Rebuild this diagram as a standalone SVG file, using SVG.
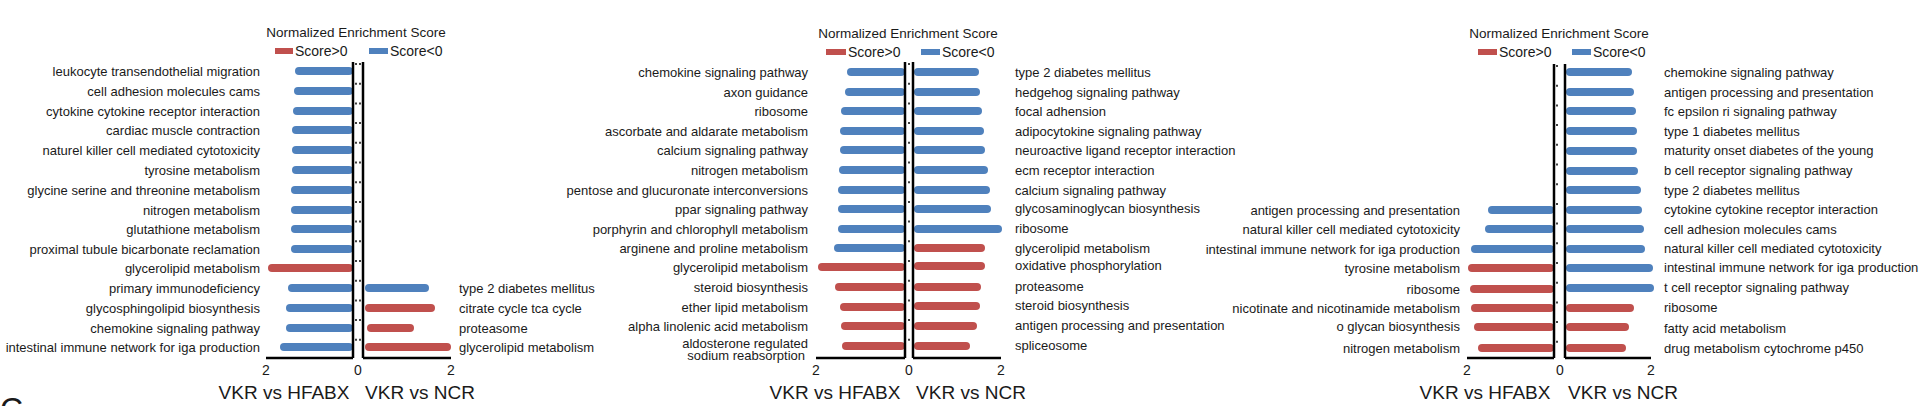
<svg xmlns="http://www.w3.org/2000/svg" width="1920" height="406" viewBox="0 0 1920 406">
<style>
text{font-family:"Liberation Sans",Arial,sans-serif;fill:#1a1a1a}
.l{font-size:13px;text-anchor:end}
.r{font-size:13px;text-anchor:start}
.t{font-size:13.5px;text-anchor:middle}
.tk{font-size:14px;text-anchor:middle}
.x{font-size:19px;text-anchor:middle}
.b{stroke:#4f81bd;stroke-width:8;stroke-linecap:round}
.d{stroke:#c0504d;stroke-width:8;stroke-linecap:round}
.ax{stroke:#000;stroke-width:2.5;fill:none}
.tick{stroke:#000;stroke-width:1.5;stroke-dasharray:2 17.7}
</style>
<rect width="1920" height="406" fill="#fff"/>

<g id="panel1">
<text class="t" x="356" y="37">Normalized Enrichment Score</text>
<rect x="275" y="48" width="18" height="6" fill="#c0504d"/><text class="r" style="font-size:14px" x="295" y="56">Score&gt;0</text>
<rect x="369" y="48" width="19" height="6" fill="#4f81bd"/><text class="r" style="font-size:14px" x="390" y="56">Score&lt;0</text>
<g id="p1-left-labels">
<text class="l" x="260" y="76">leukocyte transendothelial migration</text>
<text class="l" x="260" y="96">cell adhesion molecules cams</text>
<text class="l" x="260" y="116">cytokine cytokine receptor interaction</text>
<text class="l" x="260" y="135">cardiac muscle contraction</text>
<text class="l" x="260" y="155">naturel killer cell mediated cytotoxicity</text>
<text class="l" x="260" y="175">tyrosine metabolism</text>
<text class="l" x="260" y="195">glycine serine and threonine metabolism</text>
<text class="l" x="260" y="215">nitrogen metabolism</text>
<text class="l" x="260" y="234">glutathione metabolism</text>
<text class="l" x="260" y="254">proximal tubule bicarbonate reclamation</text>
<text class="l" x="260" y="273">glycerolipid metabolism</text>
<text class="l" x="260" y="293">primary immunodeficiency</text>
<text class="l" x="260" y="313">glycosphingolipid biosynthesis</text>
<text class="l" x="260" y="333">chemokine signaling pathway</text>
<text class="l" x="260" y="352">intestinal immune network for iga production</text>
</g>
<g id="p1-right-labels">
<text class="r" x="459" y="293">type 2 diabetes mellitus</text>
<text class="r" x="459" y="313">citrate cycle tca cycle</text>
<text class="r" x="459" y="333">proteasome</text>
<text class="r" x="459" y="352">glycerolipid metabolism</text>
</g>
<g id="p1-bars">
<line class="b" x1="299" y1="71" x2="349" y2="71"/>
<line class="b" x1="298" y1="91" x2="349" y2="91"/>
<line class="b" x1="297" y1="111" x2="349" y2="111"/>
<line class="b" x1="296" y1="130" x2="349" y2="130"/>
<line class="b" x1="296" y1="150" x2="349" y2="150"/>
<line class="b" x1="296" y1="170" x2="349" y2="170"/>
<line class="b" x1="295" y1="190" x2="349" y2="190"/>
<line class="b" x1="295" y1="210" x2="349" y2="210"/>
<line class="b" x1="295" y1="229" x2="349" y2="229"/>
<line class="b" x1="295" y1="249" x2="349" y2="249"/>
<line class="d" x1="272" y1="268" x2="349" y2="268"/>
<line class="b" x1="292" y1="288" x2="349" y2="288"/>
<line class="b" x1="290" y1="308" x2="349" y2="308"/>
<line class="b" x1="290" y1="328" x2="349" y2="328"/>
<line class="b" x1="284" y1="347" x2="349" y2="347"/>
<line class="b" x1="369" y1="288" x2="425" y2="288"/>
<line class="d" x1="369" y1="308" x2="431" y2="308"/>
<line class="d" x1="371" y1="328" x2="410" y2="328"/>
<line class="d" x1="369" y1="347" x2="447" y2="347"/>
</g>
<g id="p1-axes">
<line class="ax" x1="353" y1="62" x2="353" y2="358"/>
<line class="ax" x1="363" y1="62" x2="363" y2="358"/>
<line class="ax" x1="266" y1="358" x2="353" y2="358"/>
<line class="ax" x1="363" y1="358" x2="451" y2="358"/>
<line class="tick" x1="356" y1="63" x2="356" y2="358"/>
<line class="tick" x1="360" y1="63" x2="360" y2="358"/>
<text class="tk" x="266" y="375">2</text><text class="tk" x="358" y="375">0</text><text class="tk" x="451" y="375">2</text>
<text class="x" x="284" y="399">VKR vs HFABX</text><text class="x" x="420" y="399">VKR vs NCR</text>
</g>
</g>
<text x="0" y="420" style="font-size:32px">C</text>

<g id="panel2">
<text class="t" x="908" y="38">Normalized Enrichment Score</text>
<rect x="826" y="49" width="20" height="6" fill="#c0504d"/><text class="r" style="font-size:14px" x="848" y="57">Score&gt;0</text>
<rect x="921" y="49" width="19" height="6" fill="#4f81bd"/><text class="r" style="font-size:14px" x="942" y="57">Score&lt;0</text>
<g id="p2-left-labels">
<text class="l" x="808" y="77">chemokine signaling pathway</text>
<text class="l" x="808" y="97">axon guidance</text>
<text class="l" x="808" y="116">ribosome</text>
<text class="l" x="808" y="136">ascorbate and aldarate metabolism</text>
<text class="l" x="808" y="155">calcium signaling pathway</text>
<text class="l" x="808" y="175">nitrogen metabolism</text>
<text class="l" x="808" y="195">pentose and glucuronate interconversions</text>
<text class="l" x="808" y="214">ppar signaling pathway</text>
<text class="l" x="808" y="234">porphyrin and chlorophyll metabolism</text>
<text class="l" x="808" y="253">arginene and proline metabolism</text>
<text class="l" x="808" y="272">glycerolipid metabolism</text>
<text class="l" x="808" y="292">steroid biosynthesis</text>
<text class="l" x="808" y="312">ether lipid metabolism</text>
<text class="l" x="808" y="331">alpha linolenic acid metabolism</text>
<text class="l" x="808" y="348">aldosterone regulated</text>
<text class="l" x="805" y="360">sodium reabsorption</text>
</g>
<g id="p2-right-labels">
<text class="r" x="1015" y="77">type 2 diabetes mellitus</text>
<text class="r" x="1015" y="97">hedgehog signaling pathway</text>
<text class="r" x="1015" y="116">focal adhension</text>
<text class="r" x="1015" y="136">adipocytokine signaling pathway</text>
<text class="r" x="1015" y="155">neuroactive ligand receptor interaction</text>
<text class="r" x="1015" y="175">ecm receptor interaction</text>
<text class="r" x="1015" y="195">calcium signaling pathway</text>
<text class="r" x="1015" y="213">glycosaminoglycan biosynthesis</text>
<text class="r" x="1015" y="233">ribosome</text>
<text class="r" x="1015" y="253">glycerolipid metabolism</text>
<text class="r" x="1015" y="270">oxidative phosphorylation</text>
<text class="r" x="1015" y="291">proteasome</text>
<text class="r" x="1015" y="310">steroid biosynthesis</text>
<text class="r" x="1015" y="330">antigen processing and presentation</text>
<text class="r" x="1015" y="350">spliceosome</text>
</g>
<g id="p2-bars">
<line class="b" x1="851" y1="72" x2="901" y2="72"/>
<line class="b" x1="849" y1="92" x2="901" y2="92"/>
<line class="b" x1="845" y1="111" x2="901" y2="111"/>
<line class="b" x1="844" y1="131" x2="901" y2="131"/>
<line class="b" x1="844" y1="150" x2="901" y2="150"/>
<line class="b" x1="843" y1="170" x2="901" y2="170"/>
<line class="b" x1="842" y1="190" x2="901" y2="190"/>
<line class="b" x1="842" y1="209" x2="901" y2="209"/>
<line class="b" x1="842" y1="229" x2="901" y2="229"/>
<line class="b" x1="838" y1="248" x2="901" y2="248"/>
<line class="d" x1="822" y1="267" x2="901" y2="267"/>
<line class="d" x1="839" y1="287" x2="901" y2="287"/>
<line class="d" x1="844" y1="307" x2="901" y2="307"/>
<line class="d" x1="845" y1="326" x2="901" y2="326"/>
<line class="d" x1="846" y1="346" x2="901" y2="346"/>
<line class="b" x1="918" y1="72" x2="975" y2="72"/>
<line class="b" x1="918" y1="92" x2="976" y2="92"/>
<line class="b" x1="918" y1="111" x2="978" y2="111"/>
<line class="b" x1="918" y1="131" x2="980" y2="131"/>
<line class="b" x1="918" y1="150" x2="981" y2="150"/>
<line class="b" x1="918" y1="170" x2="984" y2="170"/>
<line class="b" x1="918" y1="190" x2="986" y2="190"/>
<line class="b" x1="918" y1="209" x2="987" y2="209"/>
<line class="b" x1="918" y1="229" x2="998" y2="229"/>
<line class="d" x1="918" y1="248" x2="981" y2="248"/>
<line class="d" x1="918" y1="266" x2="981" y2="266"/>
<line class="d" x1="918" y1="287" x2="977" y2="287"/>
<line class="d" x1="918" y1="306" x2="976" y2="306"/>
<line class="d" x1="918" y1="326" x2="973" y2="326"/>
<line class="d" x1="918" y1="346" x2="966" y2="346"/>
</g>
<g id="p2-axes">
<line class="ax" x1="905" y1="62" x2="905" y2="358"/>
<line class="ax" x1="913" y1="62" x2="913" y2="358"/>
<line class="ax" x1="816" y1="358" x2="905" y2="358"/>
<line class="ax" x1="913" y1="358" x2="1001" y2="358"/>
<line class="tick" x1="909" y1="63" x2="909" y2="358"/>
<text class="tk" x="816" y="375">2</text><text class="tk" x="909" y="375">0</text><text class="tk" x="1001" y="375">2</text>
<text class="x" x="835" y="399">VKR vs HFABX</text><text class="x" x="971" y="399">VKR vs NCR</text>
</g>
</g>

<g id="panel3">
<text class="t" x="1559" y="38">Normalized Enrichment Score</text>
<rect x="1478" y="49" width="19" height="6" fill="#c0504d"/><text class="r" style="font-size:14px" x="1499" y="57">Score&gt;0</text>
<rect x="1572" y="49" width="19" height="6" fill="#4f81bd"/><text class="r" style="font-size:14px" x="1593" y="57">Score&lt;0</text>
<g id="p3-left-labels">
<text class="l" x="1460" y="215">antigen processing and presentation</text>
<text class="l" x="1460" y="234">natural killer cell mediated cytotoxicity</text>
<text class="l" x="1460" y="254">intestinal immune network for iga production</text>
<text class="l" x="1460" y="273">tyrosine metabolism</text>
<text class="l" x="1460" y="294">ribosome</text>
<text class="l" x="1460" y="313">nicotinate and nicotinamide metabolism</text>
<text class="l" x="1460" y="331">o glycan biosynthesis</text>
<text class="l" x="1460" y="353">nitrogen metabolism</text>
</g>
<g id="p3-right-labels">
<text class="r" x="1664" y="77">chemokine signaling pathway</text>
<text class="r" x="1664" y="97">antigen processing and presentation</text>
<text class="r" x="1664" y="116">fc epsilon ri signaling pathway</text>
<text class="r" x="1664" y="136">type 1 diabetes mellitus</text>
<text class="r" x="1664" y="155">maturity onset diabetes of the young</text>
<text class="r" x="1664" y="175">b cell receptor signaling pathway</text>
<text class="r" x="1664" y="195">type 2 diabetes mellitus</text>
<text class="r" x="1664" y="214">cytokine cytokine receptor interaction</text>
<text class="r" x="1664" y="234">cell adhesion molecules cams</text>
<text class="r" x="1664" y="253">natural killer cell mediated cytotoxicity</text>
<text class="r" x="1664" y="272">intestinal immune network for iga production</text>
<text class="r" x="1664" y="292">t cell receptor signaling pathway</text>
<text class="r" x="1664" y="312">ribosome</text>
<text class="r" x="1664" y="333">fatty acid metabolism</text>
<text class="r" x="1664" y="353">drug metabolism cytochrome p450</text>
</g>
<g id="p3-bars">
<line class="b" x1="1492" y1="210" x2="1550" y2="210"/>
<line class="b" x1="1489" y1="229" x2="1550" y2="229"/>
<line class="b" x1="1475" y1="249" x2="1550" y2="249"/>
<line class="d" x1="1472" y1="268" x2="1550" y2="268"/>
<line class="d" x1="1474" y1="289" x2="1550" y2="289"/>
<line class="d" x1="1475" y1="308" x2="1550" y2="308"/>
<line class="d" x1="1478" y1="327" x2="1550" y2="327"/>
<line class="d" x1="1482" y1="348" x2="1550" y2="348"/>
<line class="b" x1="1570" y1="72" x2="1628" y2="72"/>
<line class="b" x1="1570" y1="92" x2="1630" y2="92"/>
<line class="b" x1="1570" y1="111" x2="1632" y2="111"/>
<line class="b" x1="1570" y1="131" x2="1633" y2="131"/>
<line class="b" x1="1570" y1="151" x2="1633" y2="151"/>
<line class="b" x1="1570" y1="171" x2="1634" y2="171"/>
<line class="b" x1="1570" y1="190" x2="1637" y2="190"/>
<line class="b" x1="1570" y1="210" x2="1638" y2="210"/>
<line class="b" x1="1570" y1="229" x2="1640" y2="229"/>
<line class="b" x1="1570" y1="249" x2="1641" y2="249"/>
<line class="b" x1="1570" y1="268" x2="1649" y2="268"/>
<line class="b" x1="1570" y1="288" x2="1650" y2="288"/>
<line class="d" x1="1570" y1="308" x2="1630" y2="308"/>
<line class="d" x1="1570" y1="327" x2="1625" y2="327"/>
<line class="d" x1="1570" y1="348" x2="1622" y2="348"/>
</g>
<g id="p3-axes">
<line class="ax" x1="1554" y1="64" x2="1554" y2="358"/>
<line class="ax" x1="1565" y1="64" x2="1565" y2="358"/>
<line class="ax" x1="1467" y1="358" x2="1554" y2="358"/>
<line class="ax" x1="1565" y1="358" x2="1651" y2="358"/>
<line class="tick" x1="1557" y1="65" x2="1557" y2="358"/>
<text class="tk" x="1467" y="375">2</text><text class="tk" x="1560" y="375">0</text><text class="tk" x="1651" y="375">2</text>
<text class="x" x="1485" y="399">VKR vs HFABX</text><text class="x" x="1623" y="399">VKR vs NCR</text>
</g>
</g>
</svg>
